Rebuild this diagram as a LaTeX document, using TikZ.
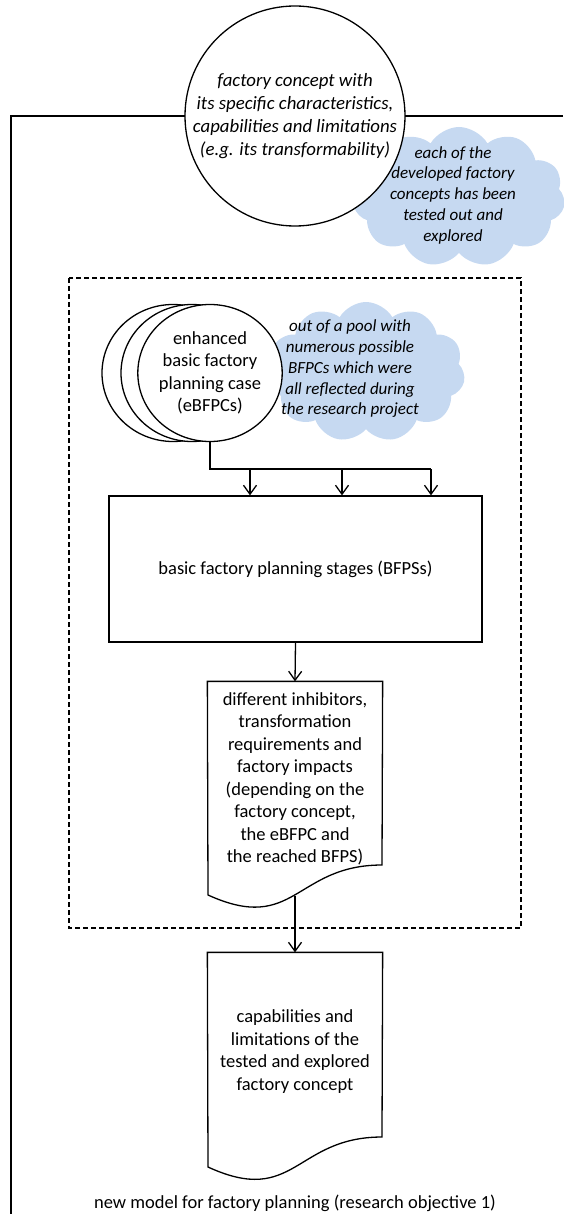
\documentclass[tikz,border=0pt]{standalone}
\usepackage{fontspec}
\setmainfont{Carlito}
\usetikzlibrary{arrows.meta,shapes.symbols,shapes.geometric}
\definecolor{cloudblue}{RGB}{198,217,241}

\begin{document}
\begin{tikzpicture}[x=1pt,y=-1pt,line width=1.3pt,
  body/.style={font=\fontsize{18.5}{22.5}\selectfont,align=center,inner sep=0pt},
  note/.style={font=\fontsize{17}{20.75}\selectfont\itshape,align=center,inner sep=0pt},
  arr/.style={-{Straight Barb[length=9pt,width=13pt]}},
  puff/.style={cloud,cloud puffs=11,cloud puff arc=120,aspect=1.5,
    fill=cloudblue,draw=none,inner sep=0pt},
  plate/.style={ellipse,draw,fill=white,minimum width=142pt,
    minimum height=137pt,inner sep=0pt},
  docbox/.style={rectangle,draw=none,minimum width=174pt,inner sep=0pt}]
\useasboundingbox (0,0) rectangle (563,1214);

% open frame of the planning model
\draw (563,116) -- (11,116) -- (11,1214);

% dashed region of the test procedure
\draw[dash pattern=on 5pt off 3pt] (69,278) rectangle (521,928);

% annotation clouds
\node[puff,minimum width=212pt,minimum height=140pt] (cloudA) at (459,197) {};
\node[note] (cloudAtxt) at (453,195)
  {each of the\\developed factory\\concepts has been\\tested out and\\explored};
\node[puff,minimum width=198pt,minimum height=140pt] (cloudB) at (366,372) {};
\node[note] (cloudBtxt) at (350,369)
  {out of a pool with\\numerous possible\\BFPCs which were\\all reflected during\\the research project};

% factory concept
\node[circle,draw,fill=white,minimum size=220pt,inner sep=0pt] (concept) at (295,116) {};
\node[font=\fontsize{18.8}{23}\selectfont\itshape,align=center,inner sep=0pt]
  (conceptTxt) at (concept) {factory concept with\\its specific characteristics,\\capabilities and limitations\\(e.g. its transformability)};

% stacked planning cases
\node[plate] (caseC) at (173,373) {};
\node[plate] (caseB) at (192,373) {};
\node[plate,body] (caseA) at (210,373) {enhanced\\basic factory\\planning case\\(eBFPCs)};

% planning stages
\node[draw,body,minimum width=373pt,minimum height=146pt] (stages) at (295.5,569)
  {basic factory planning stages (BFPSs)};

% distribution bus from the cases to the stages
\coordinate (bus) at (210,469);
\coordinate (tapA) at (250,469);
\coordinate (tapB) at (342,469);
\coordinate (tapC) at (431,469);
\draw (caseA.south) -- (bus) -- (tapC);
\draw[arr] (tapA) -- (tapA |- stages.north);
\draw[arr] (tapB) -- (tapB |- stages.north);
\draw[arr] (tapC) -- (tapC |- stages.north);

% document: inhibitors and impacts
\node[docbox,minimum height=213pt] (impacts) at (295,788.5) {};
\draw[fill=white] (impacts.north west) -- (impacts.north east) -- (382,865)
  .. controls (295,865) and (295,934.5) .. (208,895) -- cycle;
\node[body] (impactsTxt) at (295,779)
  {different inhibitors,\\transformation\\requirements and\\factory impacts\\(depending on the\\factory concept,\\the eBFPC and\\the reached BFPS)};

% document: capabilities and limitations
\node[docbox,minimum height=214pt] (result) at (295,1060) {};
\draw[fill=white] (result.north west) -- (result.north east) -- (382,1137)
  .. controls (295,1137) and (295,1207) .. (208,1167) -- cycle;
\node[body] (resultTxt) at (295,1051.5)
  {capabilities and\\limitations of the\\tested and explored\\factory concept};

\draw[arr] (stages.south) -- (impacts.north);
\draw[arr] (impacts.south) -- (result.north);

\node[body] (caption) at (295,1203) {new model for factory planning (research objective 1)};
\end{tikzpicture}
\end{document}
